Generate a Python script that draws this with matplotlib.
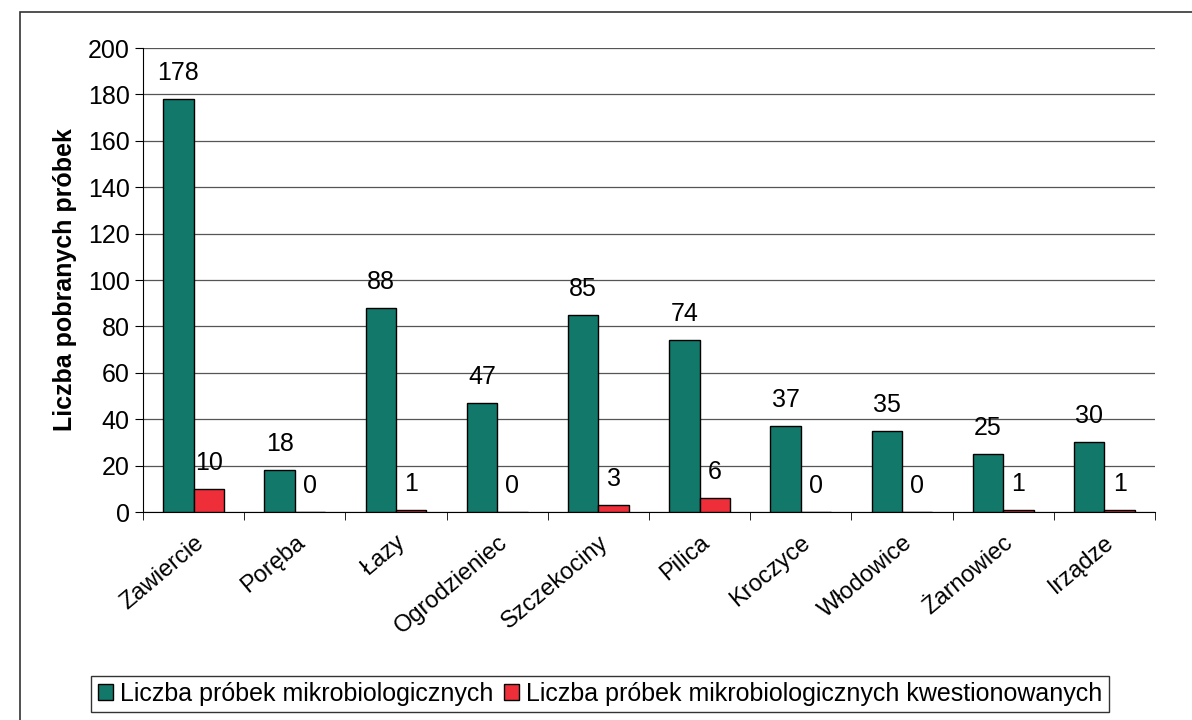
import matplotlib.pyplot as plt
import numpy as np
from matplotlib.patches import Rectangle

plt.rcParams['font.family'] = ['Liberation Sans', 'DejaVu Sans']

# -------- DATA --------
gminy = ["Zawiercie", "Poręba", "Łazy", "Ogrodzieniec", "Szczekociny",
         "Pilica", "Kroczyce", "Włodowice", "Żarnowiec", "Irządze"]
probki = [178, 18, 88, 47, 85, 74, 37, 35, 25, 30]
kwestionowane = [10, 0, 1, 0, 3, 6, 0, 0, 1, 1]

green = "#12786a"
red = "#ee2f3a"
fs = 18

fig = plt.figure(figsize=(11.92, 7.2), dpi=100)
ax = fig.add_axes([143 / 1192, 1 - 512 / 720, (1155 - 143) / 1192, (512 - 48) / 720])

x = np.arange(len(gminy))
w = 0.3
b1 = ax.bar(x - w / 2, probki, w, color=green, edgecolor="black", linewidth=1,
            label="Liczba próbek mikrobiologicznych", zorder=3)
b2 = ax.bar(x + w / 2, kwestionowane, w, color=red, edgecolor="black", linewidth=1,
            label="Liczba próbek mikrobiologicznych kwestionowanych", zorder=3)

for rect, v in zip(b1, probki):
    ax.text(rect.get_x() + rect.get_width() / 2, v + 6, str(v),
            ha="center", va="bottom", fontsize=fs)
for rect, v in zip(b2, kwestionowane):
    ax.text(rect.get_x() + rect.get_width() / 2, v + 6, str(v),
            ha="center", va="bottom", fontsize=fs)

ax.set_xlim(-0.5, len(gminy) - 0.5)
ax.set_ylim(0, 200)
ax.set_yticks(range(0, 201, 20))
ax.yaxis.grid(True, color="#555555", linewidth=0.9, zorder=0)
ax.set_axisbelow(True)

ax.set_xticks(x)
ax.set_xticklabels(gminy, rotation=40, ha="right", rotation_mode="anchor", fontsize=17)
ax.tick_params(axis="x", length=0, pad=14)
ax.set_xticks(np.arange(-0.5, len(gminy), 1), minor=True)
ax.tick_params(axis="x", which="minor", length=6, direction="out")
ax.tick_params(axis="y", labelsize=fs, length=6, direction="out")

for s in ["top", "right"]:
    ax.spines[s].set_visible(False)

ax.set_ylabel("Liczba pobranych próbek", fontsize=fs, fontweight="bold", labelpad=8)

fig.legend(loc="center", bbox_to_anchor=(600 / 1192, 1 - 694 / 720), ncol=2,
           fontsize=fs, frameon=True, fancybox=False, edgecolor="black",
           handlelength=0.6, handleheight=0.6, handletextpad=0.3, columnspacing=0.4,
           borderpad=0.25)

# outer chart frame
fig.patches.append(Rectangle((20 / 1192, -0.01), 1.2, 1 - 12 / 720 + 0.01,
                             transform=fig.transFigure, fill=False,
                             edgecolor="#333333", linewidth=1.2))

fig.savefig("out.png", dpi=100)
